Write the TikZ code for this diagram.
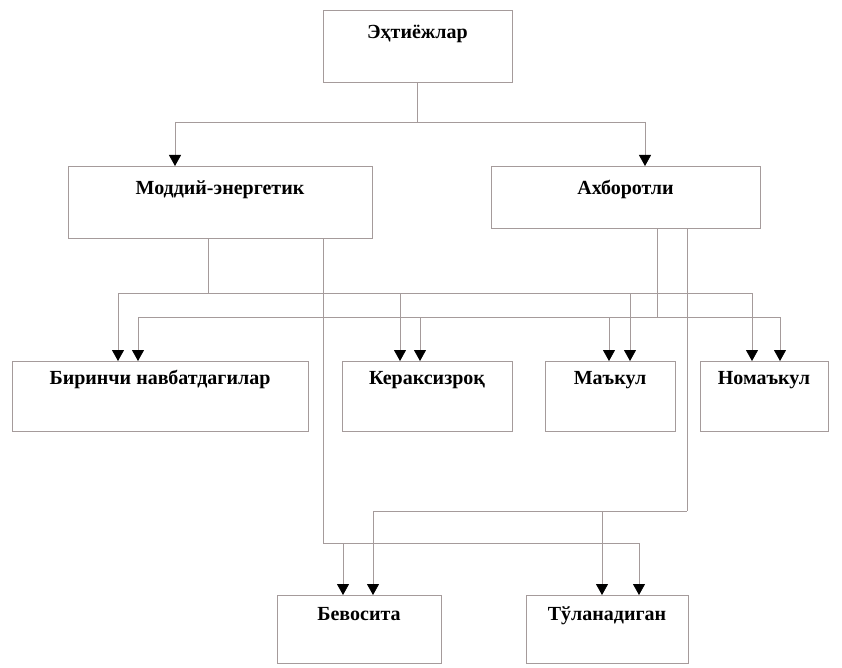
\documentclass[tikz,border=0pt]{standalone}
\usepackage{fontspec}
\setmainfont{Liberation Serif}
\usetikzlibrary{arrows.meta}
\definecolor{linecol}{RGB}{165,155,155}

\begin{document}
\begin{tikzpicture}[x=1pt, y=-1pt,
  font=\fontsize{20}{23}\selectfont\bfseries,
  box/.style={draw=linecol, line width=0.8pt, inner sep=0pt, anchor=north},
  upper/.style={box, text height=28pt, text depth=#1},
  lower/.style={box, text height=23pt, text depth=#1},
  conn/.style={draw=linecol, line width=0.8pt},
  arr/.style={conn, -{Triangle[width=12pt,length=11pt,color=black]}}]

\useasboundingbox (0,0) rectangle (842,668);

%boxes
    \node[upper=44pt, minimum width=189pt] (need)   at (417.5,10) {Эҳтиёжлар};
    \node[upper=44pt, minimum width=304pt] (mat)    at (220,166)  {Моддий-энергетик};
    \node[upper=34pt, minimum width=269pt] (info)   at (625.5,166) {Ахборотли};
    \node[lower=47pt, minimum width=296pt] (first)  at (160,361)  {Биринчи навбатдагилар};
    \node[lower=47pt, minimum width=170pt] (unneed) at (427,361)  {Кераксизроқ};
    \node[lower=47pt, minimum width=130pt] (good)   at (610,361)  {Маъкул};
    \node[lower=47pt, minimum width=128pt] (bad)    at (764,361)  {Номаъкул};
    \node[lower=43pt, text height=25pt, minimum width=164pt] (direct) at (359,595) {Бевосита};
    \node[lower=43pt, text height=25pt, minimum width=162pt] (paid)   at (607,595) {Тўланадиган};

%top split
    \coordinate (aL) at (175,122);
    \coordinate (aR) at (645,122);
    \draw[conn] (need.south) -- (need.south |- aL);
    \draw[conn] (aL) -- (aR);
    \draw[arr] (aL) -- (aL |- mat.north);
    \draw[arr] (aR) -- (aR |- info.north);

%buses: name/y/left/right/feed/source
  \foreach \bus/\y/\l/\r/\f/\src in {B/293/118/752/208/mat, C/317/138/780/657/info,
                                     D/543/323/639/323/mat, E/511/373/687/687/info} {
    \coordinate (\bus L) at (\l,\y);
    \coordinate (\bus R) at (\r,\y);
    \coordinate (\bus F) at (\f,\y);
    \draw[conn] (\bus F |- \src.south) -- (\bus F);
    \draw[conn] (\bus L) -- (\bus R); }

%drops into the boxes
  \foreach \bus/\x/\dst in {B/118/first, C/138/first, B/400/unneed, C/420/unneed,
                            C/609/good, B/630/good, B/752/bad, C/780/bad,
                            D/343/direct, E/373/direct, E/602/paid, D/639/paid}
    \draw[arr] (\x,0 |- \bus L) -- (\x,0 |- \dst.north);

\end{tikzpicture}
\end{document}
